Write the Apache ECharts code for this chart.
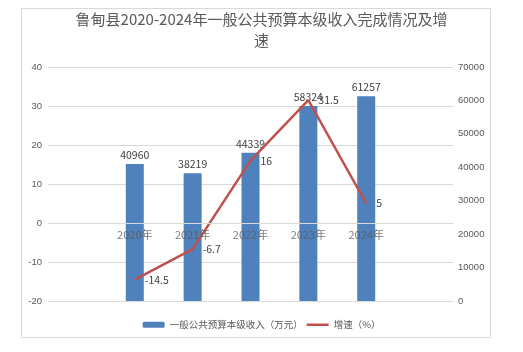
<!DOCTYPE html>
<html><head><meta charset="utf-8">
<script src="https://cdn.jsdelivr.net/npm/echarts@6/dist/echarts.min.js"></script>
<style>html,body{margin:0;padding:0;background:#fff}#c{width:523px;height:352px}</style>
</head><body><div id="c"></div>
<script>
var categories = ['2020年','2021年','2022年','2023年','2024年'];
var revenue = [40960, 38219, 44339, 58324, 61257];
var growth = [-14.5, -6.7, 16, 31.5, 5];
var leftTicks = {min: -20, max: 40, interval: 10};
var rightTicks = {min: 0, max: 70000, interval: 10000};

var pad = function(a){ return ['-'].concat(a, ['-']); };
var axisCats = [''].concat(categories, ['']);
var zeroRow = ['-'].concat(categories.map(function(){ return 0; }), ['-']);
var font = '"Microsoft YaHei","Noto Sans CJK SC",sans-serif';
var barName = '一般公共预算本级收入（万元）';
var lineName = '增速（%）';
var chart = echarts.init(document.getElementById('c'), null, {renderer:'canvas'});
chart.setOption({
  animation: false,
  title: {text: '鲁甸县2020-2024年一般公共预算本级收入完成情况及增\n速', left: 'center', top: 4,
    textStyle: {fontSize: 15, fontWeight: 'normal', color: '#595959', fontFamily: font, lineHeight: 21}},
  graphic: [{type: 'rect', shape: {x: 21.5, y: 8.5, width: 469, height: 329}, style: {fill: 'none', stroke: '#d9d9d9', lineWidth: 1}, z: 0}],
  legend: {top: 315, left: 'center', itemWidth: 22, itemHeight: 6, itemGap: 4,
    data: [{name: barName}, {name: lineName, icon: 'path://M0,0H44V5H0Z'}],
    textStyle: {fontSize: 9.5, color: '#595959', fontFamily: font}},
  grid: {left: 48, right: 70, top: 67, bottom: 51},
  xAxis: {type: 'category', data: axisCats, z: 10,
    axisLine: {onZero: true, onZeroAxisIndex: 0, lineStyle: {color: '#d9d9d9'}},
    axisTick: {show: false},
    axisLabel: {show: false}},
  yAxis: [
    {type: 'value', min: leftTicks.min, max: leftTicks.max, interval: leftTicks.interval,
     axisLine: {show: false}, axisTick: {show: false},
     axisLabel: {color: '#595959', fontSize: 9.5, margin: 6},
     splitLine: {lineStyle: {color: '#d9d9d9'}}},
    {type: 'value', min: rightTicks.min, max: rightTicks.max, interval: rightTicks.interval,
     axisLine: {show: false}, axisTick: {show: false},
     axisLabel: {color: '#595959', fontSize: 9.5, margin: 5, formatter: function(v){ return String(v); }},
     splitLine: {show: false}}
  ],
  series: [
    {name: barName, type: 'bar', yAxisIndex: 1, data: pad(revenue), barWidth: 18,
     itemStyle: {color: '#4F81BD'},
     label: {show: true, position: 'top', distance: 4, color: '#404040', fontSize: 10.5, fontFamily: font}},
    {name: lineName, type: 'line', yAxisIndex: 0, data: pad(growth), symbol: 'circle', symbolSize: 0.01,
     lineStyle: {color: '#C0504D', width: 2.5}, itemStyle: {color: '#C0504D'},
     label: {show: true, position: 'right', distance: 10, color: '#404040', fontSize: 10.5, fontFamily: font}},
    {name: 'cat', type: 'scatter', yAxisIndex: 0, data: zeroRow, symbolSize: 0.01, z: 10, silent: true,
     label: {show: true, position: 'bottom', distance: 6, color: '#595959', fontSize: 11, fontFamily: font,
       formatter: function(p){ return p.name; }}}
  ]
});
</script></body></html>
